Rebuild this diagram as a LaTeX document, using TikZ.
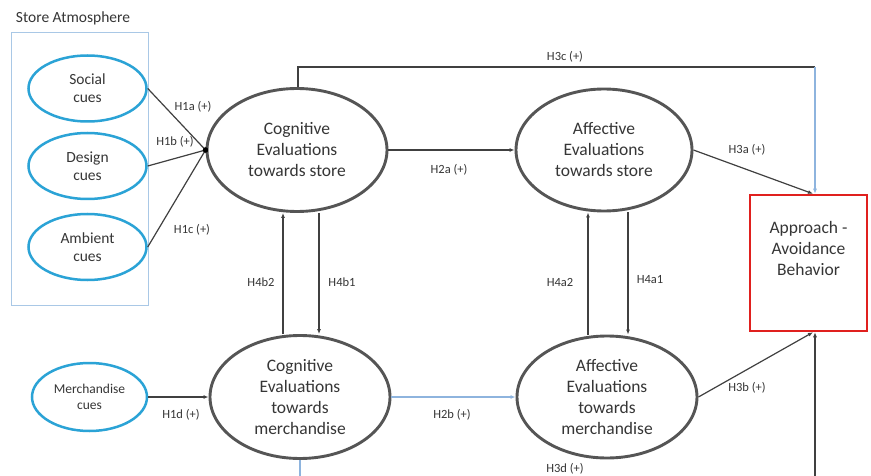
\documentclass[tikz,border=0pt]{standalone}
\usepackage{fontspec}
\setmainfont{Carlito}
\usetikzlibrary{arrows.meta,shapes.geometric}
\definecolor{txt}{HTML}{363636}
\definecolor{ln}{HTML}{404040}
\definecolor{cue}{HTML}{2BA3D6}
\definecolor{atm}{HTML}{A9C8E6}
\definecolor{ell}{HTML}{555555}
\definecolor{redb}{HTML}{E0201E}
\definecolor{lblue}{HTML}{8EB4DE}
\begin{document}
\begin{tikzpicture}[x=1pt,y=-1pt,
  cuenode/.style={ellipse,draw=cue,line width=2.5pt,inner sep=0pt,text=txt,align=center,
    font=\fontsize{15.5}{18}\selectfont,minimum width=118pt,minimum height=66pt},
  mainnode/.style={ellipse,draw=ell,line width=2.9pt,inner sep=0pt,text=txt,align=center,
    font=\fontsize{17.5}{21}\selectfont,minimum width=180pt,minimum height=123pt},
  conn/.style={draw=ln,line width=1.2pt},
  arr/.style={conn,-{Latex[length=5pt,width=4pt]}},
  lbl/.style={text=txt,font=\fontsize{12.5}{14}\selectfont,inner sep=0pt}]
\useasboundingbox (0,0) rectangle (871,476);
\clip (0,0) rectangle (871,476);
\fill[white] (0,0) rectangle (871,476);

% store atmosphere group
\node[text=txt,font=\fontsize{15.5}{18}\selectfont,inner sep=0pt] (title) at (73,18) {Store Atmosphere};
\node[draw=atm,line width=0.9pt,minimum width=137pt,minimum height=273pt,inner sep=0pt] (atmbox) at (79.5,168.5) {};

\node[cuenode] (social) at (87.5,88.5) {Social\\cues};
\node[cuenode] (design) at (87.5,166) {Design\\cues};
\node[cuenode] (ambient) at (87.5,247) {Ambient\\cues};
\node[cuenode,minimum width=115pt,minimum height=68pt,font=\fontsize{13.5}{16}\selectfont] (merch) at (89.5,397) {Merchandise\\cues};

% main constructs
\node[mainnode] (cogS) at (297,150) {Cognitive\\Evaluations\\towards store};
\node[mainnode,minimum width=176pt,minimum height=122pt] (affS) at (604,150) {Affective\\Evaluations\\towards store};
\node[mainnode] (cogM) at (300,397) {Cognitive\\Evaluations\\towards\\merchandise};
\node[mainnode,minimum height=122pt] (affM) at (607,397) {Affective\\Evaluations\\towards\\merchandise};

\node[draw=redb,line width=2.5pt,minimum width=117pt,minimum height=136pt,inner sep=0pt,
  align=center,text=txt,font=\fontsize{17.5}{21}\selectfont,text depth=30pt] (box) at (808.5,263)
  {Approach -\\Avoidance\\Behavior};

% helper coordinates
\coordinate (x4b2) at (283,0);
\coordinate (x4b1) at (319,0);
\coordinate (x4a2) at (588,0);
\coordinate (x4a1) at (628,0);
\coordinate (h3l) at (298,0);
\coordinate (h3top) at (815,67);
\coordinate (h3in) at (813,0);
\coordinate (h3dl) at (300,484);
\coordinate (h3dr) at (815,484);

% H1 paths
\draw[conn] (social.east) -- (cogS.west);
\draw[conn] (design.east) -- (cogS.west);
\draw[conn] (ambient.east) -- (cogS.west);
\fill[black] (cogS.west) circle (2.8pt);
\draw[arr] (merch.east) -- (cogM.west);

% H2
\draw[arr] (cogS.east) -- (affS.west);
\draw[arr,draw=lblue] (cogM.east) -- (affM.west);

% H4
\draw[arr] (cogM.north -| x4b2) -- (cogS.south -| x4b2);
\draw[arr] (cogS.south -| x4b1) -- (cogM.north -| x4b1);
\draw[arr] (affM.north -| x4a2) -- (affS.south -| x4a2);
\draw[arr] (affS.south -| x4a1) -- (affM.north -| x4a1);

% H3
\draw[arr] (affS.east) -- (box.north -| h3in);
\draw[arr] (affM.east) -- (box.south -| h3in);
\draw[conn] (cogS.north -| h3l) |- (h3top);
\draw[arr,draw=lblue] (h3top) -- (box.north -| h3top);
\draw[conn,draw=lblue] (cogM.south -| h3dl) -- (h3dl);
\draw[conn] (h3dl) -- (h3dr);
\draw[arr] (h3dr) -- (box.south -| h3dr);

% labels
\node[lbl] (l1a) at (193,107) {H1a (+)};
\node[lbl] (l1b) at (175,142) {H1b (+)};
\node[lbl] (l1c) at (192,230) {H1c (+)};
\node[lbl] (l1d) at (181,415) {H1d (+)};
\node[lbl] (l2a) at (449,170) {H2a (+)};
\node[lbl] (l2b) at (452,415) {H2b (+)};
\node[lbl] (l3a) at (747,150) {H3a (+)};
\node[lbl] (l3b) at (747,388) {H3b (+)};
\node[lbl] (l3c) at (565,57) {H3c (+)};
\node[lbl] (l3d) at (565,469) {H3d (+)};
\node[lbl] (l4b2) at (261,282) {H4b2};
\node[lbl] (l4b1) at (342,282) {H4b1};
\node[lbl] (l4a2) at (560,282) {H4a2};
\node[lbl] (l4a1) at (650,280) {H4a1};
\end{tikzpicture}
\end{document}
